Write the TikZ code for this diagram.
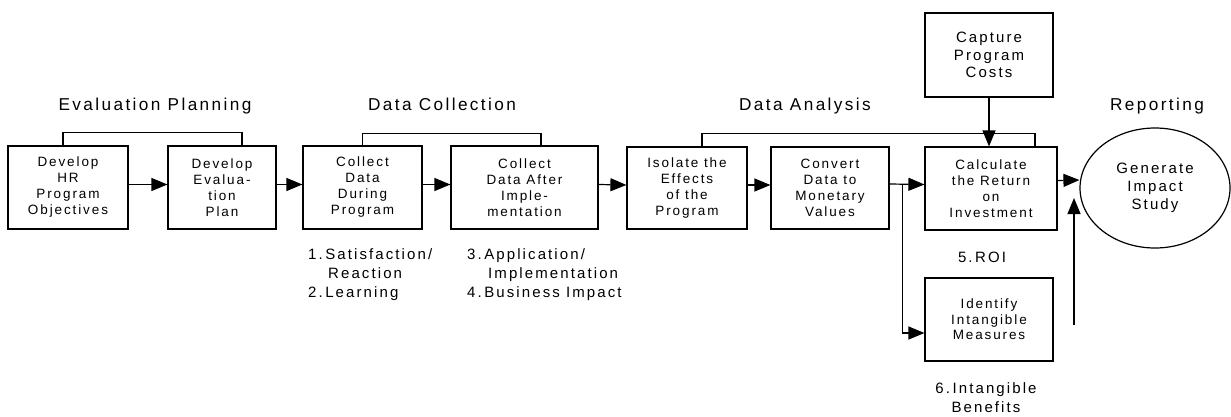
\documentclass[tikz,border=0pt]{standalone}
\usepackage{fontspec}
\setmainfont{Liberation Sans}[LetterSpace=14]
\usetikzlibrary{arrows.meta,shapes.geometric}

\begin{document}
\begin{tikzpicture}[x=1pt,y=-1pt,
  line/.style={line width=1.2pt},
  flow/.style={line width=1.2pt,-{Triangle[length=16pt,width=13pt]}},
  stepbox/.style={draw,line width=1.2pt,inner sep=0pt,align=center,
    font=\fontsize{13.5}{16}\selectfont},
  bigbox/.style={stepbox,font=\fontsize{15}{17.5}\selectfont},
  title/.style={anchor=base,inner sep=0pt,font=\fontsize{17.2}{19}\selectfont},
  label/.style={anchor=base west,inner sep=0pt,font=\fontsize{15}{19}\selectfont},
  clabel/.style={anchor=base,inner sep=0pt,font=\fontsize{15}{19}\selectfont}]
\useasboundingbox (0,0) rectangle (1231,416);

% phase titles
\node[title] (tEP) at (155,110.5) {Evaluation Planning};
\node[title] (tDC) at (442,110.5) {Data Collection};
\node[title] (tDA) at (805,110.5) {Data Analysis};
\node[title] (tRP) at (1157,110.5) {Reporting};

% process steps
\node[stepbox,minimum width=120pt,minimum height=83pt] (b1) at (68,187.5)
  {Develop\\HR\\Program\\Objectives};
\node[stepbox,minimum width=108pt,minimum height=83pt] (b2) at (222,187.5)
  {Develop\\Evalua-\\tion\\Plan};
\node[stepbox,minimum width=119pt,minimum height=83pt] (b3) at (362.5,187.5)
  {Collect\\Data\\During\\Program};
\node[stepbox,minimum width=147pt,minimum height=83pt] (b4) at (524.5,187.5)
  {Collect\\Data After\\Imple-\\mentation};
\node[stepbox,minimum width=120pt,minimum height=82pt] (b5) at (687,188)
  {Isolate the\\Effects\\of the\\Program};
\node[stepbox,minimum width=118pt,minimum height=82pt] (b6) at (830,188)
  {Convert\\Data to\\Monetary\\Values};
\node[stepbox,minimum width=132pt,minimum height=83pt] (b7) at (991,188.5)
  {Calculate\\the Return\\on\\Investment};
\node[bigbox,minimum width=128pt,minimum height=84pt] (cap) at (989,55)
  {Capture\\Program\\Costs};
\node[stepbox,minimum width=128pt,minimum height=83pt,
  font=\fontsize{13.5}{15.5}\selectfont] (idf) at (989,319.5)
  {Identify\\Intangible\\Measures};
\node[bigbox,ellipse,minimum width=150pt,minimum height=120pt,
  font=\fontsize{15}{18}\selectfont] (ell) at (1155,188)
  {Generate\\Impact\\Study};

% phase brackets
\draw[line] ([xshift=-5pt]b1.north) -- ++(0pt,13pt) -| ([xshift=20pt]b2.north);
\draw[line] (b3.north) -- ++(0pt,12pt) -| ([xshift=16.5pt]b4.north);
\draw[line] ([xshift=15pt]b5.north) -- ++(0pt,13pt) -| ([xshift=44pt]b7.north);

% main flow
\draw[flow] ([yshift=3pt]b1.east) -- ([yshift=3pt]b2.west);
\draw[flow] ([yshift=3pt]b2.east) -- ([yshift=3pt]b3.west);
\draw[flow] ([yshift=3pt]b3.east) -- ([yshift=3pt]b4.west);
\draw[flow] ([yshift=3pt]b4.east) -- ([yshift=3pt]b5.west);
\draw[flow] ([yshift=3pt]b5.east) -- ([yshift=3pt]b6.west);
\draw[flow] ([yshift=4pt]b6.east) -- ([yshift=4pt]b7.west);
\coordinate (br) at ([xshift=13pt,yshift=4pt]b6.east);
\draw[flow] (br) |- ([yshift=-13.5pt]idf.west);
\draw[flow] (cap.south) -- (cap.south |- b7.north);
\draw[flow] ([yshift=8pt]b7.east) -- ([yshift=8pt]ell.west);
\coordinate (upfoot) at (1074,325);
\coordinate (uptip) at (1074,198);
\draw[flow] (upfoot) -- (uptip);

% measurement levels
\node[label] (l1a) at (308,259.5) {1.\,Satisfaction/};
\node[label] (l1b) at (328,278.5) {Reaction};
\node[label] (l1c) at (308,297.5) {2.\,Learning};
\node[label] (l3a) at (467,259.5) {3.\,Application/};
\node[label] (l3b) at (488,278.5) {Implementation};
\node[label] (l3c) at (467,297.5) {4.\,Business Impact};
\node[clabel] (l5) at (982,262.5) {5.\,ROI};
\node[clabel] (l6a) at (986,393.5) {6.\,Intangible};
\node[clabel] (l6b) at (986,412.5) {Benefits};
\end{tikzpicture}
\end{document}
